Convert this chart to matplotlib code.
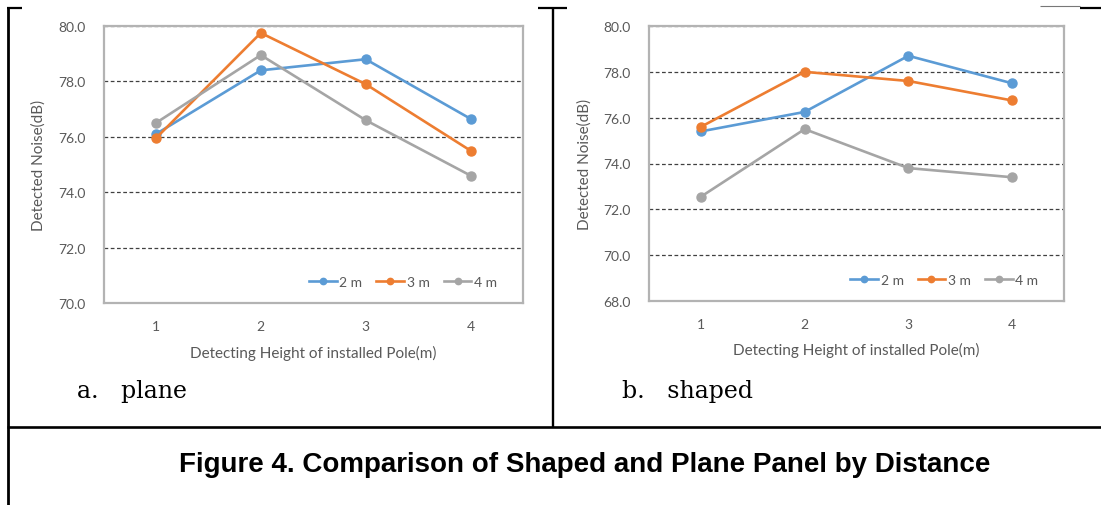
import matplotlib
matplotlib.use("Agg")
import matplotlib.pyplot as plt
from matplotlib.lines import Line2D

W, H = 1101, 506

heights = [1, 2, 3, 4]
series_names = ["2 m", "3 m", "4 m"]
series_colors = ["#5B9BD5", "#ED7D31", "#A5A5A5"]

# detected noise (dB), plane panel
plane_2m = [76.1, 78.4, 78.8, 76.65]
plane_3m = [75.95, 79.75, 77.9, 75.5]
plane_4m = [76.5, 78.95, 76.6, 74.6]

# detected noise (dB), shaped panel
shaped_2m = [75.4, 76.25, 78.7, 77.5]
shaped_3m = [75.6, 78.0, 77.6, 76.75]
shaped_4m = [72.55, 75.5, 73.8, 73.4]

plane_yticks = [70, 72, 74, 76, 78, 80]
shaped_yticks = [68, 70, 72, 74, 76, 78, 80]

x_label = "Detecting Height of installed Pole(m)"
y_label = "Detected Noise(dB)"
caption = "Figure 4. Comparison of Shaped and Plane Panel by Distance"

TEXT_GRAY = "#595959"
plt.rcParams["font.family"] = ["Lato", "DejaVu Sans"]


def rect(x0, y0, x1, y1):
    # pixel box (top-left origin) -> figure fraction rect
    return [x0 / W, 1 - y1 / H, (x1 - x0) / W, (y1 - y0) / H]


def hline(fig, x0, x1, y, lw, color="black"):
    fig.add_artist(Line2D([x0 / W, x1 / W], [1 - y / H, 1 - y / H],
                          transform=fig.transFigure, color=color, lw=lw,
                          solid_capstyle="butt"))


def vline(fig, x, y0, y1, lw, color="black"):
    fig.add_artist(Line2D([x / W, x / W], [1 - y0 / H, 1 - y1 / H],
                          transform=fig.transFigure, color=color, lw=lw,
                          solid_capstyle="butt"))


def draw_panel(ax, data, yticks):
    ax.yaxis.grid(True, color="#404040", lw=0.9, linestyle=(0, (3, 2)))
    ax.set_axisbelow(True)
    for values, name, color in zip(data, series_names, series_colors):
        ax.plot(heights, values, color=color, lw=1.9, marker="o",
                markersize=6.5, label=name, zorder=3)

    ax.set_xlim(0.5, 4.5)
    ax.set_ylim(yticks[0], yticks[-1])
    ax.set_xticks(heights)
    ax.set_yticks(yticks)
    ax.set_yticklabels([f"{v:.1f}" for v in yticks])
    ax.tick_params(length=0, labelsize=10, labelcolor=TEXT_GRAY)
    ax.tick_params(axis="y", pad=13)
    ax.tick_params(axis="x", pad=12)
    for spine in ax.spines.values():
        spine.set_color("#b3b3b3")
        spine.set_linewidth(1.6)

    ax.set_xlabel(x_label, fontsize=11, color=TEXT_GRAY, va="center")
    ax.xaxis.set_label_coords(0.5, -0.177)
    ax.set_ylabel(y_label, fontsize=11, color=TEXT_GRAY, va="center")
    ax.yaxis.set_label_coords(-0.155, 0.5)

    leg = ax.legend(loc="center right", bbox_to_anchor=(0.955, 0.076),
                    ncol=3, frameon=False, fontsize=10, handlelength=2.0,
                    handletextpad=0.2, columnspacing=1.0, borderpad=0,
                    markerscale=0.7)
    for t in leg.get_texts():
        t.set_color(TEXT_GRAY)


fig = plt.figure(figsize=(W / 100, H / 100), dpi=100)

ax_a = fig.add_axes(rect(103.5, 27, 523, 304))
draw_panel(ax_a, [plane_2m, plane_3m, plane_4m], plane_yticks)

ax_b = fig.add_axes(rect(649, 27, 1064, 302))
draw_panel(ax_b, [shaped_2m, shaped_3m, shaped_4m], shaped_yticks)

# panel captions
fig.text(77 / W, 1 - 398 / H, "a.   plane", family="DejaVu Serif",
         fontsize=17, ha="left", va="baseline")
fig.text(622 / W, 1 - 398 / H, "b.   shaped", family="DejaVu Serif",
         fontsize=17, ha="left", va="baseline")

# table borders
vline(fig, 8, 8, H, 2.0)
vline(fig, 553, 8, 428, 1.7)
hline(fig, 7, 22, 9, 1.6)
hline(fig, 538, 567, 9, 1.6)
hline(fig, 1040, 1080, 7, 0.8, color="#777777")
hline(fig, 1080, W, 9, 1.6)
hline(fig, 7, W, 428, 1.9)

fig.text(584.5 / W, 1 - 465 / H, caption, family="Liberation Sans",
         fontweight="bold", fontsize=20, ha="center", va="center")

fig.savefig("out.png", dpi=100)
